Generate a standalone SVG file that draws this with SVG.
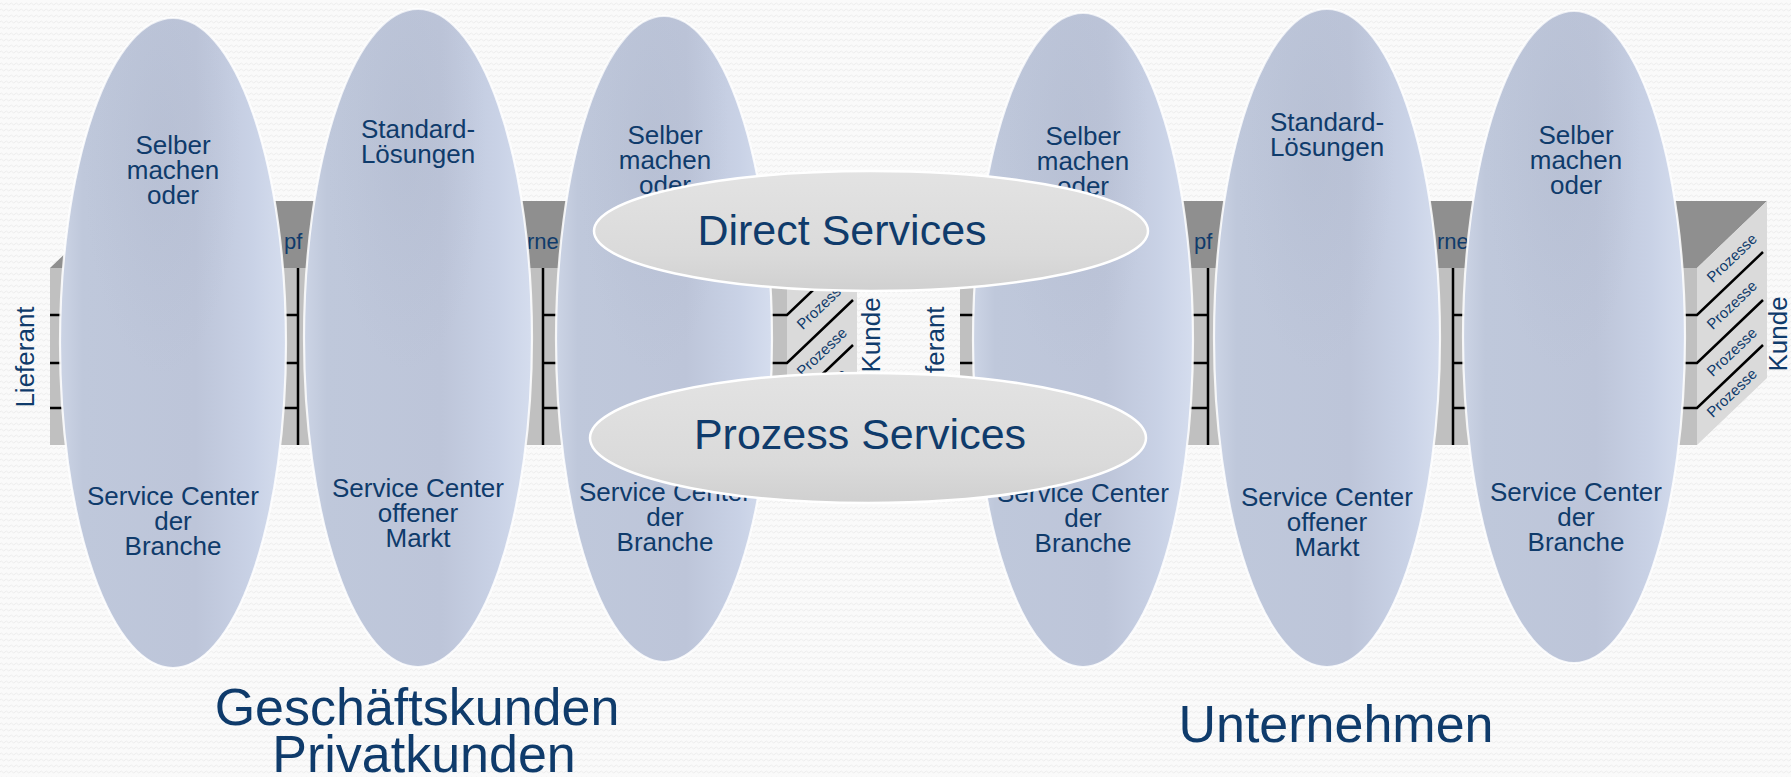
<svg xmlns="http://www.w3.org/2000/svg" width="1791" height="777" viewBox="0 0 1791 777">
<defs>
<pattern id="bgp" width="5" height="6" patternUnits="userSpaceOnUse">
<rect width="5" height="6" fill="#fafafa"/>
<path d="M0 4 Q1.25 2 2.5 4 T5 4" fill="none" stroke="#ebebeb" stroke-width="0.9"/>
</pattern>
<linearGradient id="gE" x1="0" y1="0" x2="1" y2="0">
<stop offset="0" stop-color="#ccd4e5"/>
<stop offset="0.1" stop-color="#bfc8db"/>
<stop offset="0.6" stop-color="#bdc5d9"/>
<stop offset="0.85" stop-color="#c9d2e6"/>
<stop offset="1" stop-color="#d5ddee"/>
</linearGradient>
<radialGradient id="gEs" cx="0.45" cy="0.2" r="0.35">
<stop offset="0" stop-color="#aab3c8" stop-opacity="0.3"/>
<stop offset="1" stop-color="#aab3c8" stop-opacity="0"/>
</radialGradient>
<linearGradient id="gS" x1="0" y1="0" x2="0" y2="1">
<stop offset="0" stop-color="#e3e3e3"/>
<stop offset="0.7" stop-color="#dadada"/>
<stop offset="1" stop-color="#d0d0d0"/>
</linearGradient>
</defs>
<style>
text{font-family:"Liberation Sans",Arial,sans-serif;fill:#0f3b6b}
.t{font-size:26px;text-anchor:middle}
.big{font-size:52px;text-anchor:middle}
.svc{font-size:43px;text-anchor:middle}
.lab{font-size:26px;text-anchor:middle}
.tf{font-size:22px}
.pz{font-size:15px;text-anchor:middle}
.topf{fill:#8f8f8f}
.front{fill:#c0c0c0}
.side{fill:#dadada}
.ln{stroke:#000;stroke-width:2.5;fill:none}
.ell{fill:url(#gE);stroke:#fff;stroke-opacity:.85;stroke-width:2.2}
.shade{fill:url(#gEs)}
.sv{fill:url(#gS);stroke:#fff;stroke-width:2.5}
</style>
<rect width="1791" height="777" fill="url(#bgp)"/>

<g id="box-left">
<polygon class="topf" points="50,268 120,201 857,201 787,268"/>
<rect class="front" x="50" y="268" width="737" height="177"/>
<polygon class="side" points="787,268 857,201 857,378 787,445"/>
<path class="ln" d="M298 268V445M543 268V445M50 315H298M543 315H787L853 252M50 363H298M543 363H787L853 300M50 408H298M543 408H787L853 345"/>
<text class="tf" x="284" y="249">pf</text>
<text class="tf" x="527" y="249">rne</text>
<text class="pz" transform="translate(822,258) rotate(-43.7)" y="5">Prozesse</text>
<text class="pz" transform="translate(822,305) rotate(-43.7)" y="5">Prozesse</text>
<text class="pz" transform="translate(822,352) rotate(-43.7)" y="5">Prozesse</text>
<text class="pz" transform="translate(822,393) rotate(-43.7)" y="5">Prozesse</text>
<text class="lab" transform="translate(34,357) rotate(-90)">Lieferant</text>
<text class="lab" transform="translate(880,335) rotate(-90)">Kunde</text>
</g>

<g id="box-right">
<polygon class="topf" points="960,268 1030,201 1767,201 1697,268"/>
<rect class="front" x="960" y="268" width="737" height="177"/>
<polygon class="side" points="1697,268 1767,201 1767,378 1697,445"/>
<path class="ln" d="M1208 268V445M1453 268V445M960 315H1208M1453 315H1697L1763 252M960 363H1208M1453 363H1697L1763 300M960 408H1208M1453 408H1697L1763 345"/>
<text class="tf" x="1194" y="249">pf</text>
<text class="tf" x="1437" y="249">rne</text>
<text class="pz" transform="translate(1732,258) rotate(-43.7)" y="5">Prozesse</text>
<text class="pz" transform="translate(1732,305) rotate(-43.7)" y="5">Prozesse</text>
<text class="pz" transform="translate(1732,352) rotate(-43.7)" y="5">Prozesse</text>
<text class="pz" transform="translate(1732,393) rotate(-43.7)" y="5">Prozesse</text>
<text class="lab" transform="translate(944,357) rotate(-90)">Lieferant</text>
<text class="lab" transform="translate(1787,334) rotate(-90)">Kunde</text>
</g>

<g id="e1">
<ellipse class="ell" cx="173" cy="343" rx="113" ry="325"/>
<ellipse class="shade" cx="173" cy="343" rx="113" ry="325"/>
<text class="t"><tspan x="173" y="154">Selber</tspan><tspan x="173" y="179">machen</tspan><tspan x="173" y="204">oder</tspan></text>
<text class="t"><tspan x="173" y="505">Service Center</tspan><tspan x="173" y="530">der</tspan><tspan x="173" y="555">Branche</tspan></text>
</g>
<g id="e2">
<ellipse class="ell" cx="418" cy="338" rx="114" ry="329"/>
<ellipse class="shade" cx="418" cy="338" rx="114" ry="329"/>
<text class="t"><tspan x="418" y="138">Standard-</tspan><tspan x="418" y="163">Lösungen</tspan></text>
<text class="t"><tspan x="418" y="497">Service Center</tspan><tspan x="418" y="522">offener</tspan><tspan x="418" y="547">Markt</tspan></text>
</g>
<g id="e3">
<ellipse class="ell" cx="664" cy="339" rx="108" ry="323"/>
<ellipse class="shade" cx="664" cy="339" rx="108" ry="323"/>
<text class="t"><tspan x="665" y="144">Selber</tspan><tspan x="665" y="169">machen</tspan><tspan x="665" y="194">oder</tspan></text>
<text class="t"><tspan x="665" y="501">Service Center</tspan><tspan x="665" y="526">der</tspan><tspan x="665" y="551">Branche</tspan></text>
</g>
<g id="e4">
<ellipse class="ell" cx="1083" cy="340" rx="110" ry="327"/>
<ellipse class="shade" cx="1083" cy="340" rx="110" ry="327"/>
<text class="t"><tspan x="1083" y="145">Selber</tspan><tspan x="1083" y="170">machen</tspan><tspan x="1083" y="195">oder</tspan></text>
<text class="t"><tspan x="1083" y="502">Service Center</tspan><tspan x="1083" y="527">der</tspan><tspan x="1083" y="552">Branche</tspan></text>
</g>
<g id="e5">
<ellipse class="ell" cx="1327" cy="338" rx="113" ry="329"/>
<ellipse class="shade" cx="1327" cy="338" rx="113" ry="329"/>
<text class="t"><tspan x="1327" y="131">Standard-</tspan><tspan x="1327" y="156">Lösungen</tspan></text>
<text class="t"><tspan x="1327" y="506">Service Center</tspan><tspan x="1327" y="531">offener</tspan><tspan x="1327" y="556">Markt</tspan></text>
</g>
<g id="e6">
<ellipse class="ell" cx="1574" cy="337" rx="111" ry="326"/>
<ellipse class="shade" cx="1574" cy="337" rx="111" ry="326"/>
<text class="t"><tspan x="1576" y="144">Selber</tspan><tspan x="1576" y="169">machen</tspan><tspan x="1576" y="194">oder</tspan></text>
<text class="t"><tspan x="1576" y="501">Service Center</tspan><tspan x="1576" y="526">der</tspan><tspan x="1576" y="551">Branche</tspan></text>
</g>

<g id="direct-services">
<ellipse class="sv" cx="871" cy="231" rx="277" ry="60"/>
<text class="svc" x="842" y="245">Direct Services</text>
</g>
<g id="prozess-services">
<ellipse class="sv" cx="868" cy="438" rx="278" ry="65"/>
<text class="svc" x="860" y="449">Prozess Services</text>
</g>

<g id="label-left">
<text class="big"><tspan x="417" y="725">Geschäftskunden</tspan><tspan x="424" y="772">Privatkunden</tspan></text>
</g>
<g id="label-right">
<text class="big" x="1336" y="742">Unternehmen</text>
</g>
</svg>
